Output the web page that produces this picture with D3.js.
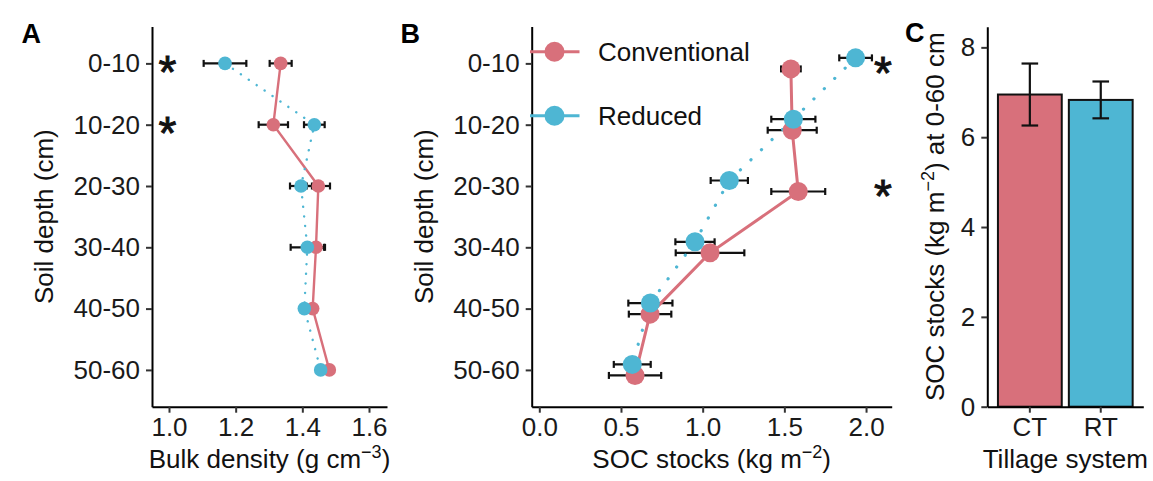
<!DOCTYPE html>
<html><head><meta charset="utf-8">
<script src="https://cdn.jsdelivr.net/npm/d3@7"></script>
<style>
body{margin:0;background:#fff;}
svg{display:block;font-family:"Liberation Sans",Arial,Helvetica,sans-serif;}
</style></head>
<body><svg id="c" width="1153" height="481"></svg>
<script>
// ---------- data ----------
const depths = ["0-10","10-20","20-30","30-40","40-50","50-60"];
const bdCT   = [1.335,1.313,1.448,1.441,1.431,1.481];
const bdCTse = [0.033,0.044,0.035,0.027,0.010,0.008];
const bdRT   = [1.168,1.436,1.396,1.415,1.406,1.455];
const bdRTse = [0.064,0.031,0.033,0.050,0.012,0.006];
const socCT   = [1.540,1.548,1.585,1.045,0.678,0.586];
const socCTse = [0.060,0.150,0.165,0.210,0.130,0.160];
const socRT   = [1.936,1.555,1.163,0.953,0.680,0.569];
const socRTse = [0.100,0.135,0.114,0.120,0.135,0.113];
const tillage  = ["CT","RT"];
const totalSOC = [6.95,6.83];
const totalSE  = [0.69,0.41];
const bdTicks    = [1.0,1.2,1.4,1.6];
const socTicks   = [0.0,0.5,1.0,1.5,2.0];
const totalTicks = [0,2,4,6,8];
const sigA = ["0-10","10-20"];
const sigB = ["0-10","20-30"];
const seriesNames = ["Conventional","Reduced"];

const colCT = "#D8707B", colRT = "#4EB6D3";
const FS = 26;
const SFS = 46; // asterisk font size

const svg = d3.select("#c");
svg.append("rect").attr("width",1153).attr("height",481).attr("fill","#fff");

function styleAxis(g){
  g.selectAll("path.domain").attr("stroke","#000").attr("stroke-width",2);
  g.selectAll(".tick line").attr("stroke","#333").attr("stroke-width",2);
  g.selectAll(".tick text").attr("fill","#1a1a1a").attr("font-size",FS).attr("font-family","Liberation Sans, Arial, sans-serif");
}

function depthPanel(opts){
  const {x0,x1,domX,ticks,fmt,ct,ctse,rt,rtse,dodge,r,lwCT,lwRT,dash,sig,sigX,sigDy,title,sup,titleX} = opts;
  const yTop=26.6, yBot=406.7;
  const x = d3.scaleLinear().domain(domX).range([x0,x1]);
  const y = d3.scalePoint().domain(depths).range([yTop,yBot]).padding(0.6);
  const off = dodge*y.step();
  const g = svg.append("g");
  const gy = g.append("g").attr("transform",`translate(${x0},0)`)
    .call(d3.axisLeft(y).tickSize(6).tickSizeOuter(0).tickPadding(6));
  styleAxis(gy);
  const gx = g.append("g").attr("transform",`translate(0,${yBot})`)
    .call(d3.axisBottom(x).tickValues(ticks).tickFormat(fmt).tickSize(6).tickSizeOuter(0).tickPadding(5));
  styleAxis(gx);
  const dCT = depths.map((d,i)=>({d,v:ct[i],e:ctse[i],yy:y(d)+off}));
  const dRT = depths.map((d,i)=>({d,v:rt[i],e:rtse[i],yy:y(d)-off}));
  [dCT,dRT].forEach(arr=>{
    const eb = g.append("g").attr("stroke","#111").attr("stroke-width",2.2);
    arr.forEach(p=>{
      eb.append("line").attr("x1",x(p.v-p.e)).attr("x2",x(p.v+p.e)).attr("y1",p.yy).attr("y2",p.yy);
      eb.append("line").attr("x1",x(p.v-p.e)).attr("x2",x(p.v-p.e)).attr("y1",p.yy-3.5).attr("y2",p.yy+3.5);
      eb.append("line").attr("x1",x(p.v+p.e)).attr("x2",x(p.v+p.e)).attr("y1",p.yy-3.5).attr("y2",p.yy+3.5);
    });
  });
  const line = d3.line().x(p=>x(p.v)).y(p=>p.yy);
  g.append("path").datum(dCT).attr("d",line).attr("fill","none").attr("stroke",colCT).attr("stroke-width",lwCT);
  g.append("path").datum(dRT).attr("d",line).attr("fill","none").attr("stroke",colRT).attr("stroke-width",lwRT)
    .attr("stroke-dasharray",dash).attr("stroke-linecap","round");
  g.selectAll("circle.ct").data(dCT).join("circle").attr("cx",p=>x(p.v)).attr("cy",p=>p.yy).attr("r",r).attr("fill",colCT);
  g.selectAll("circle.rt").data(dRT).join("circle").attr("cx",p=>x(p.v)).attr("cy",p=>p.yy).attr("r",r).attr("fill",colRT);
  sig.forEach(d=>{
    g.append("text").attr("x",x(sigX)).attr("y",y(d)+sigDy+0.5*SFS).attr("text-anchor","middle")
      .attr("font-size",SFS).attr("fill","#111").attr("stroke","#111").attr("stroke-width",0.9).text("*");
  });
  const t = g.append("text").attr("x",(x0+x1)/2).attr("y",468).attr("text-anchor","middle").attr("font-size",FS).attr("fill","#111");
  t.append("tspan").text(title);
  t.append("tspan").attr("dy",-10).attr("font-size",18).text(sup);
  t.append("tspan").attr("dy",10).text(")");
  g.append("text").attr("transform",`translate(${titleX},${(yTop+yBot)/2}) rotate(-90)`).attr("text-anchor","middle")
    .attr("font-size",FS).attr("fill","#111").text("Soil depth (cm)");
  return {x,y};
}

depthPanel({x0:152,x1:387,domX:[0.949,1.654],ticks:bdTicks,fmt:d3.format(".1f"),
  ct:bdCT,ctse:bdCTse,rt:bdRT,rtse:bdRTse,dodge:0,r:6.8,lwCT:2.4,lwRT:2.4,dash:"0.1,9.5",
  sig:sigA,sigX:0.995,sigDy:1.5,title:"Bulk density (g cm",sup:"\u22123",titleX:53});

depthPanel({x0:531.7,x1:891.7,domX:[-0.0465,2.157],ticks:socTicks,fmt:d3.format(".1f"),
  ct:socCT,ctse:socCTse,rt:socRT,rtse:socRTse,dodge:0.09,r:9.5,lwCT:3,lwRT:3.2,dash:"0.1,14.5",
  sig:sigB,sigX:2.104,sigDy:3,title:"SOC stocks (kg m",sup:"\u22122",titleX:432.7});

// legend (panel B)
const leg = svg.append("g");
[[colCT,seriesNames[0],51.7],[colRT,seriesNames[1],115.7]].forEach(([c,n,yy])=>{
  leg.append("line").attr("x1",530).attr("x2",579.5).attr("y1",yy).attr("y2",yy).attr("stroke",c).attr("stroke-width",3);
  leg.append("circle").attr("cx",554.5).attr("cy",yy).attr("r",10).attr("fill",c);
  leg.append("text").attr("x",598).attr("y",yy+9.3).attr("font-size",FS).attr("fill","#111").text(n);
});

// ---------- panel C ----------
(function(){
  const x0=987.3,x1=1143.3,yTop=26.7,yBot=406.7;
  const x = d3.scaleBand().domain(tillage).range([x0,x1]).paddingInner(0.1).paddingOuter(0.15);
  const y = d3.scaleLinear().domain([0,8.46]).range([yBot,yTop]);
  const g = svg.append("g");
  const data = tillage.map((t,i)=>({t,v:totalSOC[i],e:totalSE[i],c:i===0?colCT:colRT}));
  g.selectAll("rect.bar").data(data).join("rect").attr("x",d=>x(d.t)).attr("width",x.bandwidth())
    .attr("y",d=>y(d.v)).attr("height",d=>yBot-y(d.v)).attr("fill",d=>d.c).attr("stroke","#111").attr("stroke-width",2);
  const eb = g.append("g").attr("stroke","#111").attr("stroke-width",2.2);
  data.forEach(d=>{
    const cx = x(d.t)+x.bandwidth()/2;
    eb.append("line").attr("x1",cx).attr("x2",cx).attr("y1",y(d.v-d.e)).attr("y2",y(d.v+d.e));
    eb.append("line").attr("x1",cx-8.3).attr("x2",cx+8.3).attr("y1",y(d.v-d.e)).attr("y2",y(d.v-d.e));
    eb.append("line").attr("x1",cx-8.3).attr("x2",cx+8.3).attr("y1",y(d.v+d.e)).attr("y2",y(d.v+d.e));
  });
  const gy = g.append("g").attr("transform",`translate(${x0},0)`)
    .call(d3.axisLeft(y).tickValues(totalTicks).tickFormat(d3.format("d")).tickSize(6).tickSizeOuter(0).tickPadding(6));
  styleAxis(gy);
  const gx = g.append("g").attr("transform",`translate(0,${yBot})`)
    .call(d3.axisBottom(x).tickSize(6).tickSizeOuter(0).tickPadding(5));
  styleAxis(gx);
  g.append("text").attr("x",(x0+x1)/2).attr("y",468).attr("text-anchor","middle").attr("font-size",FS).attr("fill","#111").text("Tillage system");
  const t = g.append("text").attr("transform",`translate(944,${(yTop+yBot)/2}) rotate(-90)`).attr("text-anchor","middle")
    .attr("font-size",FS).attr("fill","#111");
  t.append("tspan").text("SOC stocks (kg m");
  t.append("tspan").attr("dy",-10).attr("font-size",18).text("\u22122");
  t.append("tspan").attr("dy",10).text(") at 0-60 cm");
})();

// panel letters
[["A",21.5,43.3],["B",400.5,43],["C",905,42]].forEach(([l,xx,yy])=>{
  svg.append("text").attr("x",xx).attr("y",yy).attr("font-size",27).attr("font-weight","bold").attr("fill","#000").text(l);
});
</script></body></html>
